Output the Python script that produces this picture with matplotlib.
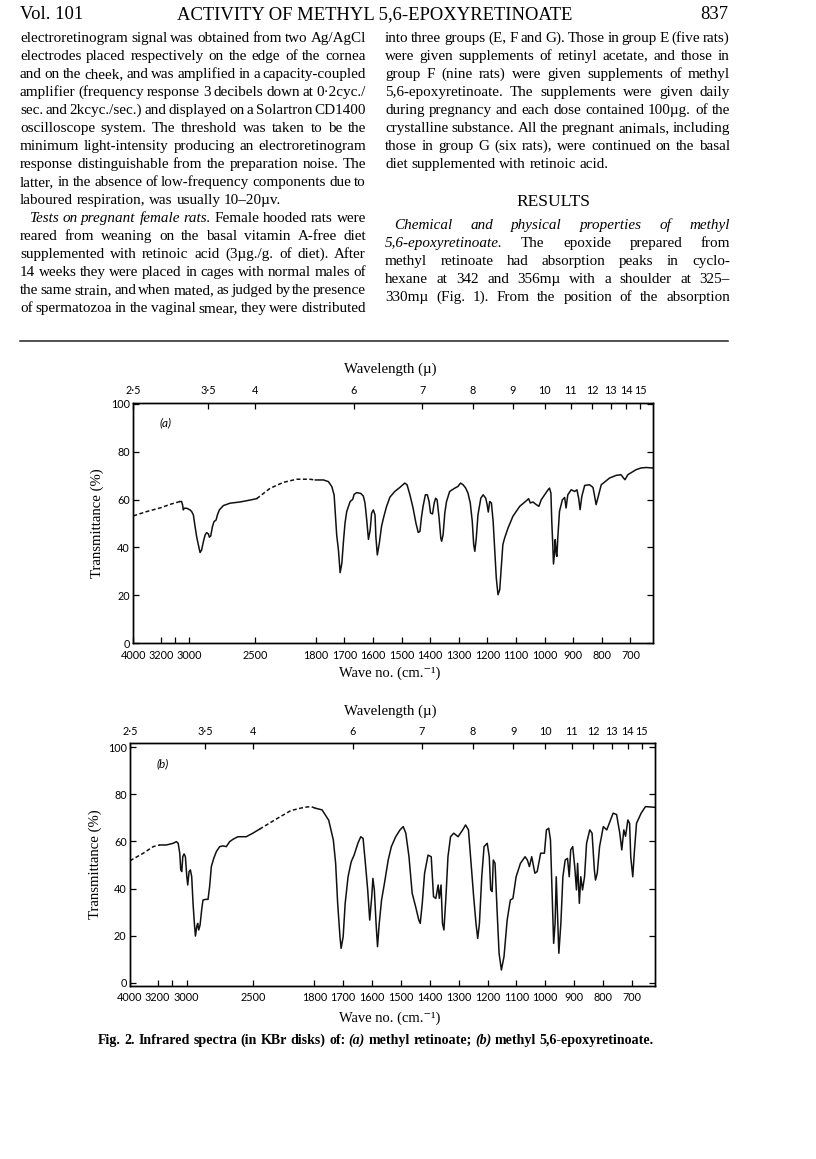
import numpy as np
import matplotlib
matplotlib.use('Agg')
import matplotlib.pyplot as plt
from matplotlib.lines import Line2D

# page is 816 x 1159 px at 100 dpi; all layout below in page pixels (y down)
PW, PH = 816, 1159
SERIF = ['Liberation Serif', 'DejaVu Serif']
SANS = 'Lato'

# ---------------- text of the page ----------------
head_left = 'Vol. 101'
head_mid = 'ACTIVITY OF METHYL 5,6-EPOXYRETINOATE'
head_right = '837'

left_col = [
    'electroretinogram signal was obtained from two Ag/AgCl',
    'electrodes placed respectively on the edge of the cornea',
    'and on the cheek, and was amplified in a capacity-coupled',
    'amplifier (frequency response 3 decibels down at 0·2cyc./',
    'sec. and 2kcyc./sec.) and displayed on a Solartron CD1400',
    'oscilloscope system. The threshold was taken to be the',
    'minimum light-intensity producing an electroretinogram',
    'response distinguishable from the preparation noise. The',
    'latter, in the absence of low-frequency components due to',
    'laboured respiration, was usually 10–20µv.',
    '_Tests on pregnant female rats._ Female hooded rats were',
    'reared from weaning on the basal vitamin A-free diet',
    'supplemented with retinoic acid (3µg./g. of diet). After',
    '14 weeks they were placed in cages with normal males of',
    'the same strain, and when mated, as judged by the presence',
    'of spermatozoa in the vaginal smear, they were distributed',
]
right_col_top = [
    'into three groups (E, F and G). Those in group E (five rats)',
    'were given supplements of retinyl acetate, and those in',
    'group F (nine rats) were given supplements of methyl',
    '5,6-epoxyretinoate. The supplements were given daily',
    'during pregnancy and each dose contained 100µg. of the',
    'crystalline substance. All the pregnant animals, including',
    'those in group G (six rats), were continued on the basal',
    'diet supplemented with retinoic acid.',
]
results_head = 'RESULTS'
right_col_bot = [
    '_Chemical and physical properties of methyl_',
    '_5,6-epoxyretinoate._ The epoxide prepared from',
    'methyl retinoate had absorption peaks in cyclo-',
    'hexane at 342 and 356mµ with a shoulder at 325–',
    '330mµ (Fig. 1). From the position of the absorption',
]
caption = ('Fig. 2.  Infrared spectra (in KBr disks) of: _(a)_ methyl retinoate; '
           '_(b)_ methyl 5,6-epoxyretinoate.')

# ---------------- chart data (wave no. cm-1, transmittance %) ----------------
spec_a = [(4000, 53.2), (3610, 55.0), (3200, 56.6), (3135, 58.0), (3065, 59.2),
          (3054, 59.2), (3047, 57.8), (3042, 55.7), (3035, 56.4), (3019, 56.4),
          (2994, 55.7), (2982, 55.0), (2969, 53.6), (2956, 48.7), (2944, 44.5),
          (2931, 41.1), (2918, 37.9), (2906, 39.0), (2893, 42.4), (2880, 45.2),
          (2868, 46.2), (2855, 45.7), (2847, 44.3), (2837, 44.8), (2824, 48.7),
          (2812, 50.8), (2796, 51.5), (2786, 53.6), (2771, 55.7), (2741, 57.5),
          (2690, 58.5), (2614, 59.0), (2538, 59.8), (2480, 60.4), (2327, 64.7),
          (2174, 67.2), (2021, 68.5), (1868, 68.5), (1805, 68.2), (1797, 68.2),
          (1773, 68.2), (1756, 67.5), (1744, 65.4), (1736, 61.9), (1731, 52.9),
          (1727, 45.2), (1721, 39.0), (1715, 29.5), (1709, 33.4), (1703, 43.1),
          (1698, 50.1), (1692, 55.0), (1686, 57.1), (1680, 59.2), (1671, 60.1),
          (1666, 62.2), (1657, 62.9), (1643, 62.6), (1634, 61.5), (1628, 58.5),
          (1622, 51.5), (1616, 43.4), (1610, 47.3), (1605, 54.3), (1599, 55.7),
          (1593, 53.6), (1590, 44.5), (1585, 36.9), (1578, 41.8), (1570, 49.0),
          (1562, 53.0), (1553, 57.0), (1541, 61.0), (1524, 63.4), (1506, 65.1),
          (1489, 66.9), (1481, 66.2), (1471, 62.0), (1460, 56.5), (1450, 50.2),
          (1442, 46.3), (1436, 46.7), (1431, 52.3), (1425, 57.2), (1417, 62.0),
          (1410, 62.0), (1404, 59.2), (1399, 54.4), (1392, 54.0), (1386, 58.6),
          (1381, 60.6), (1376, 59.9), (1369, 52.3), (1363, 43.9), (1360, 42.6),
          (1355, 45.3), (1349, 54.4), (1343, 59.2), (1332, 63.4), (1314, 64.8),
          (1303, 65.5), (1294, 66.9), (1285, 66.2), (1276, 64.8), (1268, 62.7),
          (1260, 58.6), (1253, 50.9), (1248, 41.2), (1244, 38.4), (1239, 43.9),
          (1233, 53.7), (1223, 60.6), (1215, 62.0), (1206, 60.6), (1201, 57.9),
          (1197, 54.8), (1192, 59.2), (1186, 58.6), (1180, 50.9), (1175, 39.8),
          (1169, 27.3), (1163, 20.3), (1157, 22.4), (1151, 32.8), (1146, 41.2),
          (1140, 43.9), (1128, 48.1), (1111, 53.0), (1087, 57.2), (1064, 59.5),
          (1056, 60.4), (1050, 58.6), (1041, 59.0), (1029, 57.9), (1020, 57.2),
          (1012, 59.9), (1000, 62.0), (988, 64.1), (983, 64.8), (978, 62.7),
          (975, 50.9), (971, 39.8), (969, 33.1), (965, 38.4), (963, 43.3),
          (959, 37.0), (957, 36.3), (954, 43.9), (948, 55.1), (938, 59.9),
          (930, 60.9), (925, 56.5), (919, 62.0), (907, 64.1), (895, 63.4),
          (887, 64.1), (881, 60.6), (876, 55.8), (870, 61.3), (860, 65.9),
          (843, 66.2), (831, 65.1), (826, 62.0), (820, 57.9), (814, 60.6),
          (802, 66.2), (773, 69.0), (750, 70.1), (733, 70.4), (724, 69.0),
          (719, 68.3), (709, 70.4), (680, 72.5), (663, 73.2), (645, 73.4), (622, 73.2)]
dashed_a = [(4000, 3065), (2480, 1805)]

spec_b = [(4000, 51.8), (3616, 55.0), (3328, 57.8), (3185, 58.5), (3139, 58.5),
          (3093, 59.2), (3070, 59.9), (3058, 59.2), (3047, 55.0), (3040, 47.9),
          (3033, 47.2), (3026, 53.5), (3017, 54.7), (3008, 53.5), (2998, 45.0),
          (2991, 41.5), (2981, 47.2), (2971, 47.9), (2961, 45.0), (2951, 33.7),
          (2941, 25.2), (2933, 19.8), (2923, 23.8), (2916, 25.2), (2908, 22.4),
          (2898, 24.5), (2886, 30.9), (2876, 35.1), (2856, 35.4), (2838, 35.4),
          (2826, 40.8), (2813, 49.3), (2795, 52.8), (2775, 55.7), (2750, 57.8),
          (2725, 58.1), (2700, 57.8), (2675, 59.9), (2650, 60.9), (2613, 62.0),
          (2550, 62.0), (2500, 63.5), (2424, 65.2), (2220, 69.8), (2067, 73.1),
          (1914, 74.5), (1838, 74.8), (1796, 74.1), (1773, 73.4), (1750, 69.0),
          (1734, 60.6), (1726, 50.7), (1719, 33.7), (1711, 19.5), (1707, 14.6),
          (1700, 19.5), (1693, 33.7), (1683, 45.0), (1672, 51.4), (1662, 54.2),
          (1649, 59.2), (1639, 62.0), (1631, 61.3), (1623, 50.7), (1615, 39.4),
          (1608, 26.6), (1601, 36.5), (1597, 44.3), (1592, 39.4), (1586, 25.2),
          (1581, 15.3), (1575, 25.2), (1567, 35.1), (1557, 42.2), (1544, 52.1),
          (1533, 57.8), (1518, 62.0), (1503, 64.9), (1492, 66.3), (1483, 63.5),
          (1472, 53.5), (1461, 38.0), (1449, 32.3), (1438, 26.6), (1433, 25.2),
          (1426, 33.7), (1418, 46.5), (1406, 54.2), (1395, 53.5), (1387, 36.5),
          (1379, 35.8), (1371, 41.5), (1367, 35.8), (1361, 41.5), (1356, 25.2),
          (1351, 22.4), (1344, 36.5), (1337, 53.5), (1328, 62.0), (1317, 63.5),
          (1302, 62.0), (1286, 64.9), (1276, 67.0), (1266, 64.9), (1256, 49.3),
          (1248, 36.5), (1240, 25.2), (1234, 18.8), (1228, 25.2), (1220, 45.0),
          (1212, 57.8), (1201, 59.2), (1194, 53.5), (1189, 39.4), (1184, 38.7),
          (1180, 52.1), (1174, 50.7), (1167, 30.9), (1160, 12.5), (1152, 5.4),
          (1143, 11.0), (1132, 26.6), (1121, 35.1), (1112, 35.8), (1101, 45.0),
          (1086, 50.7), (1070, 53.5), (1062, 52.1), (1055, 49.3), (1047, 53.5),
          (1036, 46.5), (1028, 47.2), (1016, 55.0), (1003, 55.0), (996, 64.9),
          (988, 65.6), (982, 60.6), (976, 36.5), (971, 16.7), (966, 25.2),
          (962, 45.0), (957, 26.6), (953, 12.5), (946, 25.2), (939, 45.0),
          (931, 52.1), (923, 52.8), (917, 45.0), (912, 56.4), (905, 57.8),
          (898, 49.3), (892, 39.4), (888, 50.7), (882, 33.7), (877, 45.0),
          (871, 39.4), (864, 45.0), (857, 59.2), (846, 64.9), (838, 63.5),
          (830, 47.9), (826, 43.6), (820, 46.5), (812, 57.8), (799, 66.3),
          (787, 64.9), (776, 68.4), (765, 72.0), (753, 71.4), (742, 63.5),
          (735, 56.4), (728, 64.9), (722, 62.2), (714, 69.1), (708, 67.7),
          (704, 53.5), (697, 45.0), (691, 56.4), (684, 67.7), (668, 72.0),
          (653, 74.8), (622, 74.5)]
dashed_b = [(4000, 3185), (2424, 1796)]

wn_ticks = [4000, 3200, 3100, 3000, 2500, 1800, 1700, 1600, 1500, 1400,
            1300, 1200, 1100, 1000, 900, 800, 700]
wn_labels = ['4000', '3200', '', '3000', '2500', '1800', '1700', '1600', '1500',
             '1400', '1300', '1200', '1100', '1000', '900', '800', '700']
wl_ticks = [2.5, 3.5, 4, 6, 7, 8, 9, 10, 11, 12, 13, 14, 15]
wl_labels = ['2·5', '3·5', '4', '6', '7', '8', '9', '10', '11', '12', '13', '14', '15']
t_ticks = [0, 20, 40, 60, 80, 100]

# chart paper: wave-number scale changes between segments
scale_nu = [620, 1800, 2500, 3000, 3200, 4000]
scale_q = [0.0, 0.649, 0.766, 0.8923, 0.9473, 1.0]


def fwd(nu):
    return np.interp(nu, scale_nu, scale_q)


def inv(q):
    return np.interp(q, scale_q, scale_nu)


fig = plt.figure(figsize=(PW / 100, PH / 100), dpi=100)
renderer = fig.canvas.get_renderer()


def measure(s, size, style='normal', weight='normal', family=SERIF):
    t = fig.text(0, 0, s, fontsize=size, family=family, style=style, weight=weight)
    w = t.get_window_extent(renderer).width
    t.remove()
    return w


def words_of(line):
    out, ital = [], False
    for w in line.split():
        if w.startswith('_'):
            ital, w = True, w[1:]
        close = w.endswith('_')
        if close:
            w = w[:-1]
        out.append((w, ital))
        if close:
            ital = False
    return out


def space_w(size, weight='normal'):
    return measure('n n', size, weight=weight) - measure('nn', size, weight=weight)


def natural(line, size, weight='normal', squeeze=0.6):
    ws = words_of(line)
    tot = sum(measure(w, size, 'italic' if it else 'normal', weight) for w, it in ws)
    return tot + squeeze * space_w(size, weight) * (len(ws) - 1)


def draw_line(line, x0, x1, base, size, justify=True, weight='normal'):
    ws = words_of(line)
    widths = [measure(w, size, 'italic' if it else 'normal', weight) for w, it in ws]
    if justify and len(ws) > 1:
        gap = (x1 - x0 - sum(widths)) / (len(ws) - 1)
    else:
        gap = space_w(size, weight)
    x = x0
    for (w, it), wd in zip(ws, widths):
        fig.text(x / PW, 1 - base / PH, w, fontsize=size, family=SERIF,
                 style='italic' if it else 'normal', weight=weight,
                 ha='left', va='baseline', color='black')
        x += wd + gap


# ---------------- header ----------------
LX0, LX1 = 20, 366
RX0, RX1 = 385, 730
hsize = 10 * 395 / measure(head_mid, 10)
HB = 19
fig.text(LX0 / PW, 1 - HB / PH, head_left, fontsize=hsize, family=SERIF, ha='left', va='baseline')
fig.text(375 / PW, 1 - HB / PH, head_mid, fontsize=hsize, family=SERIF, ha='center', va='baseline')
fig.text(728 / PW, 1 - HB / PH, head_right, fontsize=hsize, family=SERIF, ha='right', va='baseline')

# ---------------- body text ----------------
left_just = [i != 9 for i in range(len(left_col))]
right_just = [i != len(right_col_top) - 1 for i in range(len(right_col_top))]
ratios = [natural(l, 10) / (LX1 - LX0) for l, j in zip(left_col, left_just) if j]
ratios += [natural(l, 10) / (RX1 - RX0) for l, j in zip(right_col_top, right_just) if j]
ratios += [natural(l, 10) / (RX1 - RX0) for l in right_col_bot]
bsize = 10 / max(ratios)

B0, LS = 42, 18.0
INDENT = 9
for i, line in enumerate(left_col):
    x0 = LX0 + (INDENT if i == 10 else 0)
    draw_line(line, x0, LX1, B0 + i * LS, bsize, left_just[i])
for i, line in enumerate(right_col_top):
    draw_line(line, RX0, RX1, B0 + i * LS, bsize, right_just[i])
rsize = 10 * 74 / measure(results_head, 10)
fig.text(553 / PW, 1 - (B0 + 9.1 * LS) / PH, results_head, fontsize=rsize,
         family=SERIF, ha='center', va='baseline')
for i, line in enumerate(right_col_bot):
    x0 = RX0 + (INDENT if i == 0 else 0)
    draw_line(line, x0, RX1, B0 + (10.4 + i) * LS, bsize, True)

fig.add_artist(Line2D([20 / PW, 728 / PW], [1 - 341 / PH, 1 - 341 / PH],
                      transform=fig.transFigure, color='#222222', lw=1.1))

# ---------------- spectra ----------------
size_top = 10 * 92 / measure('Wavelength (µ)', 10)
size_bot = 10 * 101 / measure('Wave no. (cm.⁻¹)', 10)
size_y = 10 * 110 / measure('Transmittance (%)', 10)


def draw_spec(ax, spec, dashed):
    nu = np.array([p[0] for p in spec], float)
    t = np.array([p[1] for p in spec], float)
    mid = (nu[:-1] + nu[1:]) / 2
    isd = np.zeros(len(mid), bool)
    for a, b in dashed:
        isd |= (mid <= a) & (mid >= b)
    start = 0
    for i in range(1, len(mid) + 1):
        if i == len(mid) or isd[i] != isd[start]:
            seg = slice(start, i + 1)
            ax.plot(nu[seg], t[seg], color='#111111', lw=1.1,
                    ls=(0, (2.6, 1.6)) if isd[start] else '-',
                    solid_joinstyle='round')
            start = i


def panel(box, ylim, spec, dashed, tag, y_top_lab, y_bot_lab, x_ylab):
    x0, y0, x1, y1 = box
    ax = fig.add_axes([x0 / PW, 1 - y1 / PH, (x1 - x0) / PW, (y1 - y0) / PH])
    ax.set_xscale('function', functions=(fwd, inv))
    ax.set_xlim(4000, 620)
    ax.set_ylim(*ylim)
    draw_spec(ax, spec, dashed)
    ax.set_xticks(wn_ticks, wn_labels)
    ax.set_yticks(t_ticks)
    ax.tick_params(axis='x', direction='in', length=4, width=0.9, top=False,
                   labelsize=7.8, labelfontfamily=SANS, pad=4.5)
    ax.tick_params(axis='y', direction='in', length=4, width=0.9, left=True, right=True,
                   labelsize=7.8, labelfontfamily=SANS, pad=2.4)
    for s in ax.spines.values():
        s.set_linewidth(1.0)

    top = ax.twiny()
    top.set_xscale('function', functions=(fwd, inv))
    top.set_xlim(4000, 620)
    top.set_xticks([1e4 / l for l in wl_ticks], wl_labels)
    top.tick_params(axis='x', direction='in', length=4, width=0.9, top=True, bottom=False,
                    labelsize=7.8, labelfontfamily=SANS, pad=4.5)
    for s in top.spines.values():
        s.set_linewidth(1.0)

    w, h = x1 - x0, y1 - y0
    top.set_xlabel('Wavelength (µ)', fontsize=size_top, family=SERIF)
    top.xaxis.set_label_coords((390 - x0) / w, (y1 - y_top_lab) / h)
    top.xaxis.label.set_va('center')
    ax.set_xlabel('Wave no. (cm.⁻¹)', fontsize=size_bot, family=SERIF)
    ax.xaxis.set_label_coords((390 - x0) / w, (y1 - y_bot_lab) / h)
    ax.xaxis.label.set_va('center')
    ax.set_ylabel('Transmittance (%)', fontsize=size_y, family=SERIF)
    ax.yaxis.set_label_coords((x_ylab - x0) / w, 0.5)
    ax.yaxis.label.set_va('center')

    ax.text(0.062, 0.915, tag, transform=ax.transAxes, fontsize=8.5,
            family=SANS, style='italic', ha='center', va='center')
    return ax


panel((133.3, 402.6, 653.3, 643.3), (0, 100.5), spec_a, dashed_a, '(a)', 369, 673, 97)
panel((130, 743, 655, 986), (-1.4, 101.8), spec_b, dashed_b, '(b)', 711, 1018, 95)

# ---------------- caption ----------------
csize = 10 * 556 / natural(caption, 10, weight='bold', squeeze=1.0)
draw_line(caption, 98, 654, 1044, csize, True, weight='bold')

fig.savefig('out.png', dpi=100)
